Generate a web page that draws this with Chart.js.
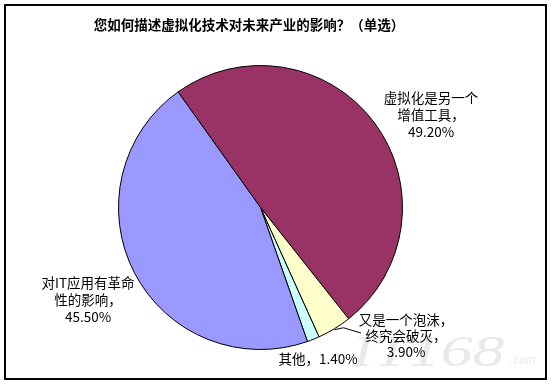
<!DOCTYPE html>
<html>
<head>
<meta charset="utf-8">
<script src="https://cdn.jsdelivr.net/npm/chart.js@4/dist/chart.umd.min.js"></script>
<style>
  html, body { margin: 0; padding: 0; background: #fff; }
  #wrap { width: 554px; height: 386px; position: relative; }
</style>
</head>
<body>
<div id="wrap"><canvas id="c" width="554" height="386"></canvas></div>
<script>
// Survey answers (single choice) and their shares in percent
const categories = ['虚拟化是另一个增值工具', '又是一个泡沫，终究会破灭', '其他', '对IT应用有革命性的影响'];
const shares = [49.2, 3.9, 1.4, 45.5];
const sliceColors = ['#993366', '#FFFFCC', '#CCFFFF', '#9999FF'];
const titleText = '您如何描述虚拟化技术对未来产业的影响？（单选）';

// Label text for each slice (name lines + value line)
const labelLines = [
  ['虚拟化是另一个', '增值工具，'],
  ['又是一个泡沫，', '终究会破灭，'],
  ['其他，'],
  ['对IT应用有革命', '性的影响，']
];

const FONT = '"Noto Sans CJK SC", "Noto Sans", sans-serif';

// Where each data label block sits (center x, first baseline y)
const labelLayout = [
  { x: 431, y: 103, lh: 17 },
  { x: 406, y: 325, lh: 16 },
  { x: 318, y: 364, lh: 16, inline: true },
  { x: 88, y: 288, lh: 17 }
];

const fmt = v => v.toFixed(2) + '%';

const decorPlugin = {
  id: 'decor',
  beforeDraw(chart) {
    const ctx = chart.ctx;
    ctx.save();
    ctx.fillStyle = '#fff';
    ctx.fillRect(0, 0, chart.width, chart.height);
    // watermark
    ctx.fillStyle = 'rgba(200,200,200,0.4)';
    ctx.font = 'italic 44px "Liberation Serif", serif';
    ctx.textBaseline = 'alphabetic';
    ctx.textAlign = 'left';
    ctx.save();
    ctx.translate(352, 366);
    ctx.scale(1.45, 1);
    ctx.fillText('IT168', 0, 0);
    ctx.restore();
    ctx.font = 'italic 12px "Liberation Sans", sans-serif';
    ctx.fillText('.com', 510, 364);
    ctx.restore();
  },
  afterDraw(chart) {
    const ctx = chart.ctx;
    ctx.save();
    // outer frame
    ctx.strokeStyle = '#000';
    ctx.lineWidth = 2;
    ctx.strokeRect(5, 5, 541, 374);
    // title
    ctx.fillStyle = '#000';
    ctx.font = 'bold 13.5px ' + FONT;
    ctx.textAlign = 'center';
    ctx.textBaseline = 'alphabetic';
    ctx.fillText(titleText, 249, 30);
    // data labels
    ctx.font = '13.5px ' + FONT;
    const data = chart.data.datasets[0].data;
    labelLayout.forEach((p, i) => {
      const lines = labelLines[i].slice();
      if (p.inline) {
        lines[lines.length - 1] = lines[lines.length - 1] + fmt(data[i]);
      } else {
        lines.push(fmt(data[i]));
      }
      lines.forEach((t, k) => ctx.fillText(t, p.x, p.y + k * p.lh));
    });
    // leader line for the small yellow slice
    const arc = chart.getDatasetMeta(0).data[1];
    const mid = (arc.startAngle + arc.endAngle) / 2;
    const r = arc.outerRadius;
    const sx = arc.x + Math.cos(mid) * r;
    const sy = arc.y + Math.sin(mid) * r;
    ctx.strokeStyle = '#000';
    ctx.lineWidth = 1;
    ctx.beginPath();
    ctx.moveTo(sx, sy + 1);
    ctx.lineTo(sx + 9, sy - 1);
    ctx.lineTo(361, 333);
    ctx.stroke();
    ctx.restore();
  }
};

new Chart(document.getElementById('c'), {
  type: 'pie',
  data: {
    labels: categories,
    datasets: [{
      data: shares,
      backgroundColor: sliceColors,
      borderColor: '#000',
      borderWidth: 1
    }]
  },
  options: {
    responsive: false,
    animation: false,
    rotation: -35.5,
    layout: { padding: { left: 118, right: 151, top: 65, bottom: 36 } },
    plugins: {
      legend: { display: false },
      title: { display: false },
      tooltip: { enabled: false }
    }
  },
  plugins: [decorPlugin]
});
</script>
</body>
</html>
